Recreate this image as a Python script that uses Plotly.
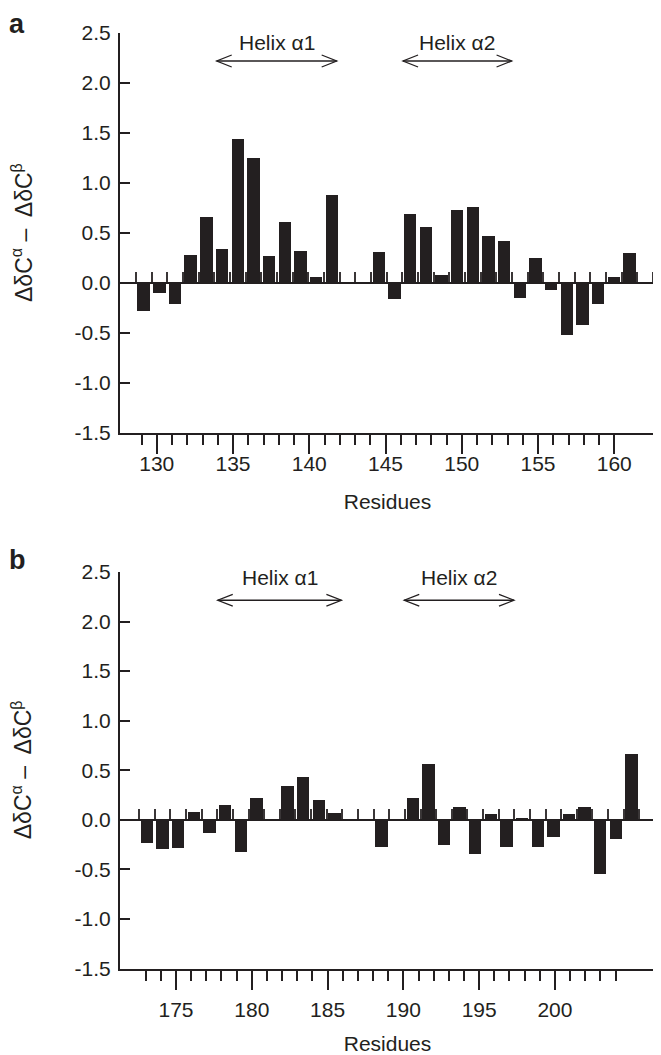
import plotly.graph_objects as go

# ---------------- data ----------------
res_a = list(range(129, 161))
val_a = [-0.28, -0.10, -0.21, 0.28, 0.66, 0.34, 1.44, 1.25, 0.27, 0.61,
         0.32, 0.06, 0.88, None, None, 0.31, -0.16, 0.69, 0.56, 0.08,
         0.73, 0.76, 0.47, 0.42, -0.15, 0.25, -0.07, -0.52, -0.42, -0.21,
         0.06, 0.30]

res_b = list(range(173, 205))
val_b = [-0.23, -0.29, -0.28, 0.08, -0.13, 0.15, -0.32, 0.22, None, 0.34,
         0.43, 0.20, 0.07, None, None, -0.27, None, 0.22, 0.56, -0.25,
         0.13, -0.34, 0.06, -0.27, 0.02, -0.27, -0.17, 0.06, 0.13, -0.55,
         -0.19, 0.66]

y_ticks = [-1.5, -1.0, -0.5, 0.0, 0.5, 1.0, 1.5, 2.0, 2.5]
y_ticktext = ["-1.5", "-1.0", "-0.5", "0.0", "0.5", "1.0", "1.5", "2.0", "2.5"]

x_major_a = [130, 135, 140, 145, 150, 155, 160]
x_minor_a = list(range(129, 161))
x_major_b = [175, 180, 185, 190, 195, 200]
x_minor_b = list(range(173, 205))

helix_labels = ["Helix \u03b11", "Helix \u03b12"]
helix_a = [(133.66, 141.32), (145.55, 152.48)]
helix_b = [(177.53, 185.44), (189.46, 196.48)]

# ---------------- styling ----------------
OFF = 8                      # page body margin
W, H = 661 - OFF, 1055 - OFF
INK = "#231f20"
FONT = "Liberation Sans, Arial, Helvetica, sans-serif"
FS = 21
L = 120 - OFF
R = W - (655 - OFF)
PW = W - L - R

def py(px):                  # reference page px (y) -> paper fraction
    return 1 - (px - OFF) / H

def px_x(px):                # reference page px (x) -> paper fraction
    return (px - OFF - L) / PW

dom_a = [py(433), py(33)]
dom_b = [py(968.5), py(572)]
zero_a = dom_a[0] + 1.5 / 4 * (dom_a[1] - dom_a[0])
zero_b = dom_b[0] + 1.5 / 4 * (dom_b[1] - dom_b[0])

fig = go.Figure()
fig.add_trace(go.Bar(x=res_a, y=val_a, xaxis="x", yaxis="y", width=0.79,
                     marker=dict(color=INK, line=dict(width=0)), showlegend=False))
fig.add_trace(go.Bar(x=res_b, y=val_b, xaxis="x2", yaxis="y2", width=0.79,
                     marker=dict(color=INK, line=dict(width=0)), showlegend=False))
# empty traces so that the residue-label axes get drawn
fig.add_trace(go.Scatter(x=[None], y=[None], xaxis="x3", yaxis="y",
                         showlegend=False, hoverinfo="skip"))
fig.add_trace(go.Scatter(x=[None], y=[None], xaxis="x4", yaxis="y2",
                         showlegend=False, hoverinfo="skip"))

def zero_axis(rng, pos, first, last):
    vals = [first + 0.5 + i for i in range(int(last - first))]
    return dict(range=rng, anchor="free", position=pos, domain=[0, 1],
                showline=True, linewidth=2, linecolor=INK,
                ticks="inside", tickvals=vals, ticklen=10, tickwidth=1.6,
                tickcolor="#3a3637", showticklabels=False, showgrid=False,
                zeroline=False, layer="above traces")

def label_axis(rng, over, anchor, major, minor, standoff, tstand):
    return dict(range=rng, overlaying=over, anchor=anchor, domain=[0, 1],
                showline=True, linewidth=2, linecolor=INK,
                ticks="outside", tickvals=major, ticktext=[str(v) for v in major],
                ticklen=19, tickwidth=2, tickcolor=INK,
                ticklabelstandoff=standoff,
                minor=dict(tickmode="array", tickvals=minor, ticks="outside",
                           ticklen=10, tickwidth=2, tickcolor=INK, showgrid=False),
                tickfont=dict(family=FONT, size=FS, color=INK),
                title=dict(text="Residues", font=dict(family=FONT, size=FS, color=INK),
                           standoff=tstand),
                showgrid=False, zeroline=False)

def yaxis(dom, anchor):
    return dict(domain=dom, anchor=anchor, range=[-1.5, 2.5],
                tickvals=y_ticks, ticktext=y_ticktext,
                ticks="inside", ticklen=10, tickwidth=2, tickcolor=INK,
                showline=True, linewidth=2, linecolor=INK,
                tickfont=dict(family=FONT, size=FS, color=INK),
                ticklabelstandoff=3,
                showgrid=False, zeroline=False)

fig.update_layout(
    width=W, height=H,
    margin=dict(l=L, r=R, t=0, b=0, autoexpand=False),
    paper_bgcolor="white", plot_bgcolor="white",
    bargap=0,
    xaxis=zero_axis([127.49, 161.63], zero_a, 128, 162),
    xaxis3=label_axis([127.59, 162.67], "x", "y", x_major_a, x_minor_a, -8, 20),
    yaxis=yaxis(dom_a, "x"),
    xaxis2=zero_axis([171.277, 205.5], zero_b, 172, 206),
    xaxis4=label_axis([171.306, 206.6], "x2", "y2", x_major_b, x_minor_b, 2, 18),
    yaxis2=yaxis(dom_b, "x2"),
)

ann = []
ytitle = "\u0394\u03b4C<sup>\u03b1</sup> \u2013  \u0394\u03b4C<sup>\u03b2</sup>"
for dom in (dom_a, dom_b):
    ann.append(dict(text=ytitle, xref="paper", yref="paper",
                    x=px_x(22), y=(dom[0] + dom[1]) / 2,
                    xanchor="center", yanchor="middle", textangle=-90,
                    showarrow=False, font=dict(family=FONT, size=23, color=INK)))
ann.append(dict(text="<b>a</b>", xref="paper", yref="paper",
                x=px_x(8), y=1, xanchor="left", yanchor="top", borderpad=0,
                showarrow=False, font=dict(family=FONT, size=27, color=INK)))
ann.append(dict(text="<b>b</b>", xref="paper", yref="paper",
                x=px_x(8), y=py(560), xanchor="left", yanchor="middle", borderpad=0,
                showarrow=False, font=dict(family=FONT, size=27, color=INK)))

shapes = []
for spans, xr, yr, ytxt, yarr in ((helix_a, "x", "y", 2.40, 2.22),
                                   (helix_b, "x2", "y2", 2.44, 2.215)):
    for (x0, x1), lab in zip(spans, helix_labels):
        ann.append(dict(text=lab, xref=xr, yref=yr, x=(x0 + x1) / 2, y=ytxt,
                        xanchor="center", yanchor="middle", showarrow=False,
                        font=dict(family=FONT, size=FS, color=INK)))
        ln = dict(color=INK, width=1.3)
        shapes.append(dict(type="line", xref=xr, yref=yr, x0=x0, x1=x1,
                           y0=yarr, y1=yarr, line=ln))
        dx, dy = 0.96, 0.06
        shapes.append(dict(type="path", xref=xr, yref=yr, line=ln,
                           path=f"M {x0+dx},{yarr+dy} L {x0},{yarr} L {x0+dx},{yarr-dy}"))
        shapes.append(dict(type="path", xref=xr, yref=yr, line=ln,
                           path=f"M {x1-dx},{yarr+dy} L {x1},{yarr} L {x1-dx},{yarr-dy}"))

fig.update_layout(annotations=ann, shapes=shapes)
fig.write_html("out.html")
